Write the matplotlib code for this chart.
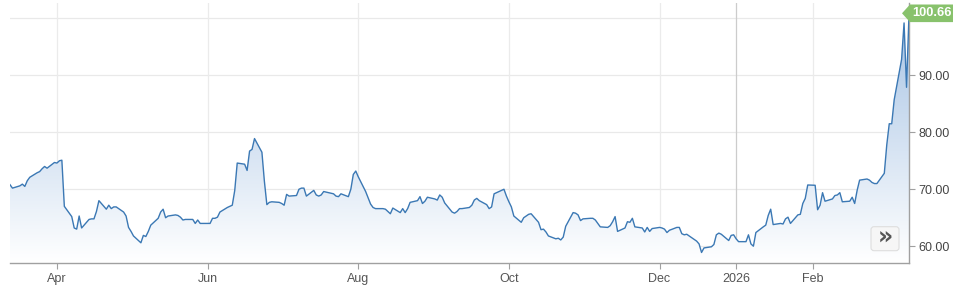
import matplotlib
matplotlib.use("Agg")
import matplotlib.pyplot as plt
import matplotlib.dates as mdates
import numpy as np
import pandas as pd
from matplotlib.colors import LinearSegmentedColormap
from matplotlib.patches import Polygon, FancyBboxPatch
from matplotlib.transforms import IdentityTransform

# ---------------- data ----------------
start_date = "2025-03-13"
values = [
    70.8, 70.2, 70.6, 70.9, 70.5, 71.5, 72.1, 72.9, 73.1, 73.6,
    74.0, 73.7, 74.7, 74.6, 75.0, 75.1, 67.0, 65.2, 63.2, 63.0,
    65.3, 63.2, 64.7, 64.8, 64.8, 66.1, 68.0, 66.5, 67.2, 66.6,
    66.9, 66.9, 66.0, 65.3, 63.3, 62.6, 61.8, 60.6, 61.9, 61.7,
    62.6, 63.7, 64.9, 66.0, 66.5, 65.0, 65.3, 65.5, 65.4, 65.1,
    64.6, 64.7, 64.7, 64.0, 64.6, 64.0, 64.0, 64.0, 64.9, 64.9,
    65.1, 66.0, 66.8, 67.0, 67.2, 69.8, 74.6, 74.4, 73.3, 76.7,
    77.0, 78.9, 76.5, 71.4, 67.3, 67.7, 67.8, 67.7, 67.5, 67.2,
    69.1, 68.8, 68.9, 70.0, 70.2, 70.2, 68.8, 69.8, 69.0, 68.8,
    69.0, 69.6, 69.3, 69.2, 68.8, 68.7, 69.2, 68.7, 70.0, 72.6,
    73.2, 72.2, 69.6, 68.5, 67.4, 66.8, 66.6, 66.6, 66.5, 66.1,
    65.7, 66.7, 65.9, 66.6, 65.9, 66.6, 67.7, 68.0, 68.7, 67.5,
    67.9, 68.6, 68.3, 68.1, 69.0, 68.6, 67.6, 66.0, 65.8, 66.1,
    66.6, 66.6, 66.8, 67.2, 68.1, 68.4, 68.0, 67.3, 66.6, 66.9,
    69.2, 69.4, 70.0, 68.8, 67.8, 66.9, 65.3, 64.2, 65.0, 65.3,
    65.6, 65.7, 64.2, 62.9, 63.0, 62.5, 61.8, 61.3, 61.4, 61.1,
    61.6, 63.5, 65.9, 65.8, 65.5, 64.5, 64.8, 64.9, 64.9, 64.6,
    64.0, 63.4, 63.3, 63.6, 64.3, 65.2, 62.6, 63.2, 64.3, 64.2,
    64.9, 63.4, 63.2, 62.5, 63.3, 62.6, 63.1, 63.3, 63.2, 63.0,
    62.4, 62.8, 63.3, 63.3, 62.2, 62.0, 62.1, 61.2, 60.9, 60.4,
    58.9, 59.7, 59.9, 60.3, 62.0, 62.3, 62.1, 61.0, 61.9, 62.0,
    61.3, 60.8, 60.8, 62.0, 60.4, 60.0, 62.4, 63.4, 63.7, 65.4,
    66.5, 63.8, 64.0, 63.9, 64.8, 65.1, 64.0, 65.5, 65.6, 67.5,
    68.4, 70.75, 70.7, 66.4, 67.2, 69.4, 67.9, 68.3, 68.9, 69.0,
    69.4, 67.8, 67.9, 68.6, 67.5, 69.8, 71.6, 71.8, 71.6, 71.2,
    71.0, 71.0, 72.8, 77.8, 81.5, 81.5, 85.7, 92.8, 99.2, 87.9,
    100.66,
]
tick_dates = ["2025-04-01", "2025-06-01", "2025-08-01", "2025-10-01",
              "2025-12-01", "2026-01-01", "2026-02-01"]
tick_labels = ["Apr", "Jun", "Aug", "Oct", "Dec", "2026", "Feb"]
y_ticks = [60, 70, 80, 90, 100]
y_tick_labels = ["60.00", "70.00", "80.00", "90.00", ""]
last_label = "100.66"

dates = pd.bdate_range(start=start_date, periods=len(values))

# ---------------- figure ----------------
W, H = 977, 286
fig = plt.figure(figsize=(W / 100, H / 100), dpi=100)
plt.rcParams["font.family"] = ["Liberation Sans", "DejaVu Sans"]

left_px, right_px, top_px, bottom_px = 10, 909, 3, 263.3
ax = fig.add_axes([left_px / W, (H - bottom_px) / H,
                   (right_px - left_px) / W, (bottom_px - top_px) / H])

ymin, ymax = 57.0, 102.7
x0 = mdates.date2num(dates[0])
x1 = mdates.date2num(dates[-1])
ax.set_xlim(x0, x1)
ax.set_ylim(ymin, ymax)

# gradient area fill
poly = ax.fill_between(dates, values, ymin, color="none", lw=0)
cmap = LinearSegmentedColormap.from_list("g", ["#ffffff", "#a2c0e3"])
grad = np.linspace(0, 1, 256).reshape(-1, 1)
im = ax.imshow(grad, aspect="auto", cmap=cmap, origin="lower",
               extent=[x0, x1, ymin, ymax], zorder=1, interpolation="bilinear")
im.set_clip_path(poly.get_paths()[0], transform=ax.transData)

ax.plot(dates, values, color="#3b78b4", lw=1.0, zorder=3)

# grid
for yt in y_ticks:
    ax.axhline(yt, color="#e9e9e9", lw=0.9, zorder=0)
for d, lab in zip(tick_dates, tick_labels):
    c = "#cccccc" if lab == "2026" else "#ebebeb"
    ax.axvline(pd.Timestamp(d), color=c, lw=0.9, zorder=0)

# axes styling
ax.set_xticks([pd.Timestamp(d) for d in tick_dates])
ax.set_xticklabels(tick_labels)
ax.set_yticks(y_ticks)
ax.set_yticklabels(y_tick_labels)
ax.yaxis.tick_right()
for s in ["left", "top"]:
    ax.spines[s].set_visible(False)
for s in ["right", "bottom"]:
    ax.spines[s].set_color("#a0a0a0")
    ax.spines[s].set_linewidth(1.0)
ax.tick_params(axis="x", length=4, width=0.8, color="#a0a0a0",
               labelsize=9, labelcolor="#555555", pad=3)
ax.tick_params(axis="y", length=4, width=0.8, color="#a0a0a0",
               labelsize=9, labelcolor="#444444", pad=2.5, right=True, left=False)

# last-value label (green pointer box)
yc = H - 13.3
tip_x = 902
box_l, box_r, hh = 910, 953, 8.8
pts = [(tip_x, yc), (box_l, yc + hh), (box_r, yc + hh),
       (box_r, yc - hh), (box_l, yc - hh)]
fig.add_artist(Polygon(pts, closed=True, transform=IdentityTransform(),
                       facecolor="#88c26c", edgecolor="none", zorder=10))
fig.text((box_l + box_r) / 2 / W + 0.0005, yc / H, last_label, color="white",
         fontsize=9.3, fontweight="bold", ha="center", va="center", zorder=11)

# the "»" button
bx0, bx1, by0, by1 = 871, 899, H - 250.7, H - 226.7
fig.add_artist(FancyBboxPatch((bx0, by0), bx1 - bx0, by1 - by0,
                              boxstyle="round,pad=0,rounding_size=3",
                              transform=IdentityTransform(),
                              facecolor="#f6f6f6", edgecolor="#dedede",
                              lw=0.8, zorder=10))
fig.text((bx0 + bx1) / 2 / W, (by0 + by1) / 2 / H + 0.005, "\u00bb",
         color="#555555", fontsize=17, fontweight="bold",
         ha="center", va="center", zorder=11, family="DejaVu Sans")

fig.savefig("out.png", dpi=100)
